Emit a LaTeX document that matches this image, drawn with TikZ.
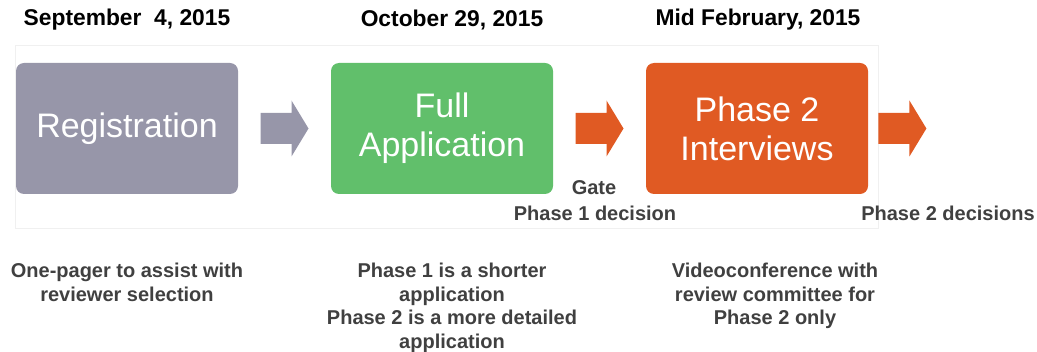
\documentclass[tikz,border=0pt]{standalone}
\usepackage{fontspec}
\setmainfont{Liberation Sans}
\usepackage{tikz}
\usetikzlibrary{calc, positioning}
\usepackage{xcolor}
\definecolor{regcol}{RGB}{151,150,169}
\definecolor{appcol}{RGB}{97,191,107}
\definecolor{intcol}{RGB}{224,90,35}
\definecolor{txtcol}{RGB}{64,64,64}

\begin{document}
\begin{tikzpicture}[x=0.5pt, y=-0.5pt]
				\tikzstyle{stage} = [rounded corners=4pt, minimum width=111pt, minimum height=65.5pt, align=center, text=white, font=\fontsize{17}{19.5}\selectfont]
				\tikzstyle{date} = [font=\fontsize{11.4}{14}\selectfont\bfseries]
				\tikzstyle{gate} = [text=txtcol, font=\fontsize{10}{12}\selectfont\bfseries]
				\tikzstyle{note} = [text=txtcol, align=center, font=\fontsize{10}{11.8}\selectfont\bfseries]
				
				\useasboundingbox (0,0) rectangle (1037,352);
				\draw[black!6] (15,45) rectangle (878,228);
				
				\node[date]					at (127, 20)	(d1)	{September~~4, 2015};
				\node[date]					at (452, 20)	(d2)	{October 29, 2015};
				\node[date]					at (758, 20)	(d3)	{Mid February, 2015};
				
				\node[stage, fill=regcol]	at (127, 128.5)	(reg)	{Registration};
				\node[stage, fill=appcol]	at (442, 128.5)	(app)	{Full\\Application};
				\node[stage, fill=intcol]	at (757, 128.5)	(int)	{Phase 2\\Interviews};
				
				% block arrows between the stages
				\coordinate (a1) at ($(reg.east)!0.5!(app.west)$);
				\coordinate (a2) at ($(app.east)!0.5!(int.west)$);
				\coordinate (a3) at ($(int.east)+(34,0)$);
				\foreach \c/\col in {a1/regcol, a2/intcol, a3/intcol}
					\fill[\col] ($(\c)+(-24,-15.5)$) -- ($(\c)+(7,-15.5)$) -- ($(\c)+(7,-28)$) -- ($(\c)+(24,0)$)
						-- ($(\c)+(7,28)$) -- ($(\c)+(7,15.5)$) -- ($(\c)+(-24,15.5)$) -- cycle;
				
				\node[gate]					at (594, 188)	(g1)	{Gate};
				\node[gate]					at (595, 213)	(g2)	{Phase 1 decision};
				\node[gate]					at (948, 213)	(g3)	{Phase 2 decisions};
				
				\node[note, anchor=north]	at (127, 256)	(n1)	{One-pager to assist with\\reviewer selection};
				\node[note, anchor=north]	at (452, 256)	(n2)	{Phase 1 is a shorter\\application\\Phase 2 is a more detailed\\application};
				\node[note, anchor=north]	at (775, 256)	(n3)	{Videoconference with\\review committee for\\Phase 2 only};
			\end{tikzpicture}
\end{document}
